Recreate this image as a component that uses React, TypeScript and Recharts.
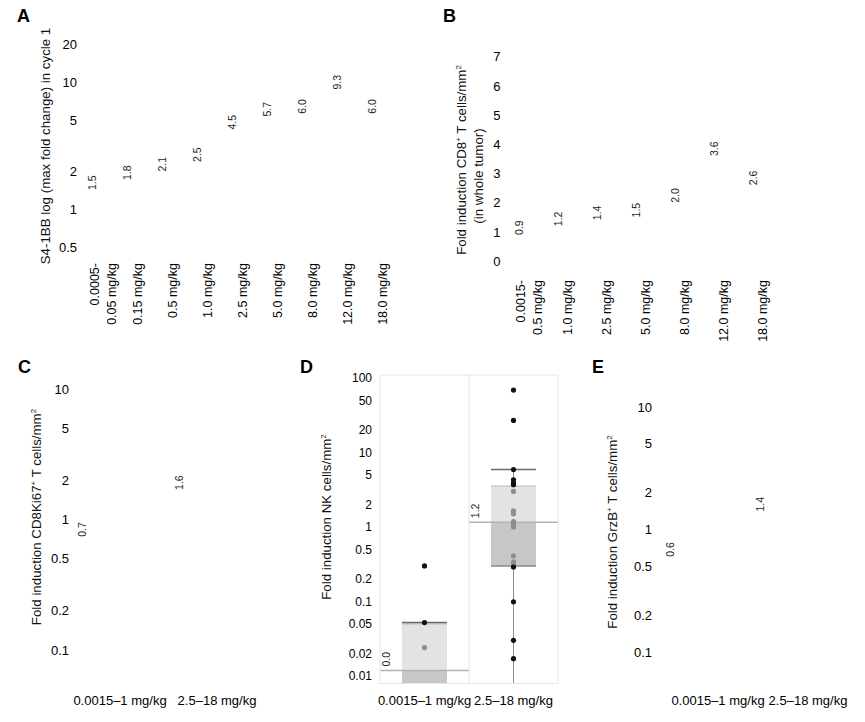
import React from 'react';
import { Bar, ComposedChart, ReferenceLine, Scatter, XAxis, YAxis } from 'recharts';

const FONT = '"Liberation Sans", Arial, Helvetica, sans-serif';

// A: S4-1BB max fold change per dose
const s41bbDoses = [
  '0.0005-\n0.05 mg/kg',
  '0.15 mg/kg',
  '0.5 mg/kg',
  '1.0 mg/kg',
  '2.5 mg/kg',
  '5.0 mg/kg',
  '8.0 mg/kg',
  '12.0 mg/kg',
  '18.0 mg/kg',
];
const s41bbMedians = [1.5, 1.8, 2.1, 2.5, 4.5, 5.7, 6.0, 9.3, 6.0];
const s41bbTicks = [0.5, 1, 2, 5, 10, 20];
const s41bbDomain: [number, number] = [0.4, 25];

// B: CD8+ T cells per dose
const cd8Doses = [
  '0.0015-\n0.5 mg/kg',
  '1.0 mg/kg',
  '2.5 mg/kg',
  '5.0 mg/kg',
  '8.0 mg/kg',
  '12.0 mg/kg',
  '18.0 mg/kg',
];
const cd8Medians = [0.9, 1.2, 1.4, 1.5, 2.0, 3.6, 2.6];
const cd8Ticks = [0, 1, 2, 3, 4, 5, 6, 7];
const cd8Domain: [number, number] = [-0.3, 7.3];

// C, D, E: two dose groups
const doseGroups = ['0.0015–1 mg/kg', '2.5–18 mg/kg'];
const ki67Medians = [0.7, 1.6];
const grzbMedians = [0.6, 1.4];
const foldTicks = [0.1, 0.2, 0.5, 1, 2, 5, 10];
const ki67Domain: [number, number] = [0.0559, 13.5];
const grzbDomain: [number, number] = [0.0558, 19.3];

// D: NK cells box plot
const nkTicks = [0.01, 0.02, 0.05, 0.1, 0.2, 0.5, 1, 2, 5, 10, 20, 50, 100];
const nkDomain: [number, number] = [0.0079, 110];
const nkQ1 = [0.004, 0.3];
const nkMedian = [0.0118, 1.16];
const nkQ3 = [0.05, 3.55];
const nkWhiskerLow = [0.002, 0.005];
const nkWhiskerHigh = [0.052, 5.9];
const nkLowDosePoints = [0.3, 0.052, 0.024];
const nkHighDosePoints = [
  69, 27, 5.9, 4.3, 3.9, 3.7, 3.0, 1.65, 1.5, 1.18, 1.09, 1.0, 0.41, 0.34, 0.32,
  0.29, 0.099, 0.03, 0.017,
];

const toRows = (values: number[]) => values.map((value, pos) => ({ pos, value }));
const indices = (n: number) => Array.from({ length: n }, (_, i) => i);

const s41bbRows = toRows(s41bbMedians);
const cd8Rows = toRows(cd8Medians);
const ki67Rows = toRows(ki67Medians);
const grzbRows = toRows(grzbMedians);
const nkMedianRows = toRows(nkMedian);
const nkBoxRows = nkMedian.map((median, pos) => ({
  pos,
  q1: nkQ1[pos],
  median,
  q3: nkQ3[pos],
  lo: nkWhiskerLow[pos],
  hi: nkWhiskerHigh[pos],
}));
const nkPointRows = [nkLowDosePoints, nkHighDosePoints].flatMap((points, pos) =>
  points.map((value) => ({
    pos,
    value,
    inBox: value >= nkQ1[pos] && value <= nkQ3[pos],
  }))
);

const yTick = { fontSize: 13, fill: '#000', fontFamily: FONT };

function RotatedTick(props: any) {
  const { x, y, payload, labels, gap } = props;
  const lines = String(labels[payload.value] ?? '').split('\n');
  const ty = y + gap;
  return (
    <g>
      {lines.map((line: string, i: number) => {
        const lx = x + (i - (lines.length - 1) / 2) * 17;
        return (
          <text
            key={i}
            x={lx}
            y={ty}
            dy="0.35em"
            textAnchor="end"
            transform={`rotate(-90 ${lx} ${ty})`}
            fontSize={12.5}
            fontFamily={FONT}
            fill="#000"
          >
            {line}
          </text>
        );
      })}
    </g>
  );
}

function FlatTick(props: any) {
  const { x, y, payload, labels, gap } = props;
  return (
    <text x={x} y={y + gap} dy="0.35em" textAnchor="middle" fontSize={13} fontFamily={FONT} fill="#000">
      {labels[payload.value]}
    </text>
  );
}

function valueLabel(dx: number, dy: number) {
  return (props: any) => {
    const { cx, cy, payload } = props;
    const lx = cx + dx;
    const ly = cy + dy;
    return (
      <text
        x={lx}
        y={ly}
        dy="0.35em"
        transform={`rotate(-90 ${lx} ${ly})`}
        fontSize={10.5}
        fontFamily={FONT}
        fill="#222"
      >
        {Number(payload.value).toFixed(1)}
      </text>
    );
  };
}

function NkDot(props: any) {
  const { cx, cy, payload } = props;
  return <circle cx={cx} cy={cy} r={2.6} fill={payload.inBox ? '#8e8e8e' : '#111'} />;
}

function LowerBox(props: any) {
  const { x, y, width, height } = props;
  return (
    <g>
      <rect x={x} y={y} width={width} height={height} fill="#c7c7c7" />
      <line x1={x} x2={x + width} y1={y + height} y2={y + height} stroke="#8a8a8a" strokeWidth={1.5} />
    </g>
  );
}

function UpperBox(props: any) {
  const { x, y, width, height } = props;
  return (
    <g>
      <rect x={x} y={y} width={width} height={height} fill="#e3e3e3" />
      <line x1={x} x2={x + width} y1={y} y2={y} stroke="#bdbdbd" strokeWidth={1.2} />
      <line x1={x - 22} x2={x + width + 22} y1={y + height} y2={y + height} stroke="#b3b3b3" strokeWidth={1.5} />
    </g>
  );
}

function UpperWhisker(props: any) {
  const { x, y, width, height } = props;
  const cx = x + width / 2;
  return (
    <g>
      <line x1={cx} x2={cx} y1={y} y2={y + height} stroke="#8c8c8c" />
      <line x1={x} x2={x + width} y1={y} y2={y} stroke="#6a6a6a" strokeWidth={1.5} />
    </g>
  );
}

function LowerWhisker(props: any) {
  const { x, y, width, height } = props;
  const cx = x + width / 2;
  return (
    <g>
      <line x1={cx} x2={cx} y1={y} y2={y + height} stroke="#8c8c8c" />
      <line x1={x} x2={x + width} y1={y + height} y2={y + height} stroke="#6a6a6a" strokeWidth={1.5} />
    </g>
  );
}

function VTitle({ cx, cy, children }: { cx: number; cy: number; children: React.ReactNode }) {
  return (
    <div
      style={{
        position: 'absolute',
        left: cx,
        top: cy,
        transform: 'translate(-50%, -50%) rotate(-90deg)',
        whiteSpace: 'nowrap',
        fontSize: 13.3,
        lineHeight: '15px',
        color: '#111',
      }}
    >
      {children}
    </div>
  );
}

const Sup = ({ children }: { children: React.ReactNode }) => (
  <span style={{ fontSize: 8, position: 'relative', top: -5 }}>{children}</span>
);

function Letter({ x, y, children }: { x: number; y: number; children: React.ReactNode }) {
  return (
    <div style={{ position: 'absolute', left: x, top: y, fontSize: 18, lineHeight: '18px', fontWeight: 'bold', color: '#000' }}>
      {children}
    </div>
  );
}

function Box({ left, top, children }: { left: number; top: number; children: React.ReactNode }) {
  return <div style={{ position: 'absolute', left, top }}>{children}</div>;
}

export default function App() {
  return (
    <div
      style={{
        position: 'absolute',
        left: 0,
        top: 0,
        width: 865,
        height: 722,
        background: '#fff',
        fontFamily: FONT,
        overflow: 'hidden',
      }}
    >
      {/* A */}
      <Box left={0} top={0}>
        <ComposedChart width={430} height={352} data={s41bbRows} margin={{ top: 32, right: 29.5, bottom: 0, left: 0 }}>
          <XAxis
            type="number"
            dataKey="pos"
            domain={[-0.5, s41bbDoses.length - 0.5]}
            ticks={indices(s41bbDoses.length)}
            interval={0}
            height={92}
            axisLine={false}
            tickLine={false}
            tickSize={0}
            tickMargin={0}
            tick={(p: any) => <RotatedTick {...p} labels={s41bbDoses} gap={3} />}
          />
          <YAxis
            type="number"
            scale="log"
            domain={s41bbDomain}
            allowDataOverflow
            ticks={s41bbTicks}
            interval={0}
            width={85.5}
            axisLine={false}
            tickLine={false}
            tickSize={0}
            tickMargin={8.5}
            tick={yTick}
          />
          <Scatter data={s41bbRows} dataKey="value" isAnimationActive={false} shape={valueLabel(-11, 3)} />
        </ComposedChart>
      </Box>

      {/* B */}
      <Box left={430} top={0}>
        <ComposedChart width={435} height={352} data={cd8Rows} margin={{ top: 48, right: 82.5, bottom: 0, left: 0 }}>
          <XAxis
            type="number"
            dataKey="pos"
            domain={[-0.5, cd8Doses.length - 0.5]}
            ticks={indices(cd8Doses.length)}
            interval={0}
            height={82}
            axisLine={false}
            tickLine={false}
            tickSize={0}
            tickMargin={0}
            tick={(p: any) => <RotatedTick {...p} labels={cd8Doses} gap={10} />}
          />
          <YAxis
            type="number"
            domain={cd8Domain}
            allowDataOverflow
            ticks={cd8Ticks}
            interval={0}
            width={79.5}
            axisLine={false}
            tickLine={false}
            tickSize={0}
            tickMargin={9}
            tick={yTick}
          />
          <Scatter data={cd8Rows} dataKey="value" isAnimationActive={false} shape={valueLabel(-10, 0)} />
        </ComposedChart>
      </Box>

      {/* C */}
      <Box left={0} top={350}>
        <ComposedChart width={300} height={372} data={ki67Rows} margin={{ top: 22, right: 34.5, bottom: 0, left: 0 }}>
          <XAxis
            type="number"
            dataKey="pos"
            domain={[-0.5, 1.5]}
            ticks={indices(doseGroups.length)}
            interval={0}
            height={39}
            axisLine={false}
            tickLine={false}
            tickSize={0}
            tickMargin={0}
            tick={(p: any) => <FlatTick {...p} labels={doseGroups} gap={17} />}
          />
          <YAxis
            type="number"
            scale="log"
            domain={ki67Domain}
            allowDataOverflow
            ticks={foldTicks}
            interval={0}
            width={71.5}
            axisLine={false}
            tickLine={false}
            tickSize={0}
            tickMargin={2.5}
            tick={yTick}
          />
          <Scatter data={ki67Rows} dataKey="value" isAnimationActive={false} shape={valueLabel(-37.5, -3)} />
        </ComposedChart>
      </Box>

      {/* D */}
      <Box left={300} top={350}>
        <ComposedChart width={290} height={372} data={nkBoxRows} margin={{ top: 25, right: 32, bottom: 0, left: 0 }}>
          <XAxis
            type="number"
            dataKey="pos"
            domain={[-0.5, 1.5]}
            ticks={indices(doseGroups.length)}
            interval={0}
            height={38.5}
            axisLine={false}
            tickLine={false}
            tickSize={0}
            tickMargin={0}
            tick={(p: any) => <FlatTick {...p} labels={doseGroups} gap={16.5} />}
          />
          {['lower', 'upper', 'whiskerUp', 'whiskerDown'].map((id) => (
            <XAxis
              key={id}
              xAxisId={id}
              type="number"
              dataKey="pos"
              domain={[-0.5, 1.5]}
              ticks={indices(doseGroups.length)}
              hide
            />
          ))}
          <YAxis
            type="number"
            scale="log"
            domain={nkDomain}
            allowDataOverflow
            ticks={nkTicks}
            interval={0}
            width={80}
            axisLine={false}
            tickLine={false}
            tickSize={0}
            tickMargin={8}
            tick={{ ...yTick, fontSize: 12 }}
          />
          <ReferenceLine x={-0.5} stroke="#e6e6e6" ifOverflow="visible" />
          <ReferenceLine x={0.5} stroke="#e2e2e2" ifOverflow="visible" />
          <ReferenceLine x={1.5} stroke="#e6e6e6" ifOverflow="visible" />
          <ReferenceLine y={nkDomain[1]} stroke="#e6e6e6" ifOverflow="visible" />
          <ReferenceLine y={nkDomain[0]} stroke="#e6e6e6" ifOverflow="visible" />
          <Bar
            xAxisId="lower"
            dataKey={(d: any) => [d.q1, d.median]}
            barSize={45}
            isAnimationActive={false}
            shape={LowerBox}
          />
          <Bar
            xAxisId="upper"
            dataKey={(d: any) => [d.median, d.q3]}
            barSize={45}
            isAnimationActive={false}
            shape={UpperBox}
          />
          <Bar
            xAxisId="whiskerUp"
            dataKey={(d: any) => [d.q3, d.hi]}
            barSize={45}
            isAnimationActive={false}
            shape={UpperWhisker}
          />
          <Bar
            xAxisId="whiskerDown"
            dataKey={(d: any) => [d.lo, d.q1]}
            barSize={45}
            isAnimationActive={false}
            shape={LowerWhisker}
          />
          <Scatter data={nkPointRows} dataKey="value" isAnimationActive={false} shape={NkDot} />
          <Scatter data={nkMedianRows} dataKey="value" isAnimationActive={false} shape={valueLabel(-38, -4)} />
        </ComposedChart>
      </Box>

      {/* E */}
      <Box left={590} top={350}>
        <ComposedChart width={275} height={372} data={grzbRows} margin={{ top: 22, right: 12, bottom: 0, left: 0 }}>
          <XAxis
            type="number"
            dataKey="pos"
            domain={[-0.5, 1.5]}
            ticks={indices(doseGroups.length)}
            interval={0}
            height={39}
            axisLine={false}
            tickLine={false}
            tickSize={0}
            tickMargin={0}
            tick={(p: any) => <FlatTick {...p} labels={doseGroups} gap={17} />}
          />
          <YAxis
            type="number"
            scale="log"
            domain={grzbDomain}
            allowDataOverflow
            ticks={foldTicks}
            interval={0}
            width={83}
            axisLine={false}
            tickLine={false}
            tickSize={0}
            tickMargin={21}
            tick={yTick}
          />
          <Scatter data={grzbRows} dataKey="value" isAnimationActive={false} shape={valueLabel(-47.5, 0)} />
        </ComposedChart>
      </Box>

      {/* panel letters */}
      <Letter x={17} y={6.5}>A</Letter>
      <Letter x={443} y={6.5}>B</Letter>
      <Letter x={18} y={358}>C</Letter>
      <Letter x={300} y={358}>D</Letter>
      <Letter x={592} y={358}>E</Letter>

      {/* axis titles */}
      <VTitle cx={45} cy={146}>S4-1BB log (max fold change) in cycle 1</VTitle>
      <VTitle cx={462} cy={160}>
        Fold induction CD8<Sup>+</Sup> T cells/mm<Sup>2</Sup>
      </VTitle>
      <VTitle cx={478} cy={175.5}>(in whole tumor)</VTitle>
      <VTitle cx={37} cy={517}>
        Fold induction CD8Ki67<Sup>+</Sup> T cells/mm<Sup>2</Sup>
      </VTitle>
      <VTitle cx={327} cy={516.5}>
        Fold induction NK cells/mm<Sup>2</Sup>
      </VTitle>
      <VTitle cx={613} cy={531.5}>
        Fold induction GrzB<Sup>+</Sup> T cells/mm<Sup>2</Sup>
      </VTitle>
    </div>
  );
}
